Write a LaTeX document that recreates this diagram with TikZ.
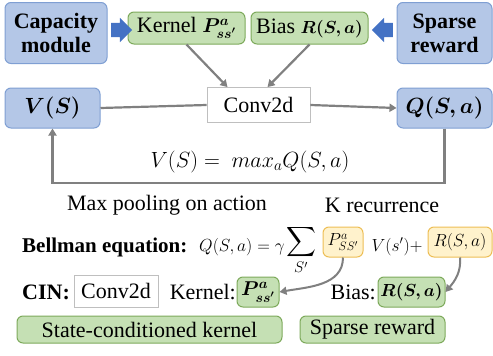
\RequirePackage{fix-cm}
\documentclass[tikz,border=0pt]{standalone}
\usepackage{amsmath,bm}
\usepackage{fontspec}
\setmainfont{Liberation Serif}
\usetikzlibrary{arrows.meta,shapes.arrows}
\definecolor{blueF}{HTML}{B4C7E7}
\definecolor{blueD}{HTML}{7F9FD3}
\definecolor{arrowB}{HTML}{4472C4}
\definecolor{greenF}{HTML}{C5E0B4}
\definecolor{greenD}{HTML}{7DAA5B}
\definecolor{yellowF}{HTML}{FFF2CC}
\definecolor{yellowD}{HTML}{EDBE55}
\definecolor{flowgray}{HTML}{808080}
\newcommand\figfont{\fontsize{22}{24}\selectfont}
\newcommand\eqfont{\fontsize{17.5}{20}\selectfont}

\begin{document}
\begin{tikzpicture}[x=1pt,y=-1pt,
    every node/.style={font=\figfont},
    box/.style={draw,rounded corners=6pt,line width=1pt,inner sep=0pt},
    bluebox/.style={box,draw=blueD,fill=blueF},
    greenbox/.style={box,draw=greenD,fill=greenF},
    yellowbox/.style={box,draw=yellowD,fill=yellowF},
    plainbox/.style={draw=black!25,line width=0.8pt,fill=white,inner sep=0pt},
    flow/.style={draw=flowgray,line width=2.2pt,-{Triangle[length=7pt,width=8pt]}},
    fat/.style={single arrow,fill=arrowB,inner xsep=0pt,inner ysep=7pt,minimum height=21pt,single arrow head extend=5pt,single arrow head indent=0pt}]
    \useasboundingbox (0,0) rectangle (493,356);

    % top row
    \node[bluebox,minimum width=102pt,minimum height=61pt,align=center,font=\figfont\bfseries] (cap) at (56,33) {Capacity\\module};
    \node[bluebox,minimum width=95pt,minimum height=61pt,align=center,font=\figfont\bfseries] (spr) at (444.5,33) {Sparse\\reward};
    \node[greenbox,minimum width=117pt,minimum height=32pt] (kern) at (186.5,28) {Kernel {\fontsize{20}{22}\selectfont$\bm{P^{a}_{ss'}}$}};
    \node[greenbox,minimum width=117pt,minimum height=32pt] (bias) at (309.5,28) {Bias {\eqfont$\bm{R(S,a)}$}};
    \node[fat] (capin) at (118,30) {};
    \node[fat,shape border rotate=180] (sprin) at (386,30) {};

    % value iteration loop
    \node[plainbox,minimum width=103pt,minimum height=35pt] (conv) at (258.5,105) {Conv2d};
    \node[bluebox,minimum width=95pt,minimum height=40pt] (vs) at (52.5,108) {$\bm{V(S)}$};
    \node[bluebox,minimum width=95pt,minimum height=40pt] (qs) at (444.5,108) {$\bm{Q(S,a)}$};
    \draw[flow] (kern.south) -- ([xshift=-31pt]conv.north);
    \draw[flow] (bias.south) -- ([xshift=9pt]conv.north);
    \draw[draw=flowgray,line width=2.2pt] (vs.east) -- (conv.west);
    \draw[flow] (conv.east) -- (qs.west);
    \coordinate (fb) at (0,183);
    \draw[flow] (qs.south) |- (fb -| vs.south) -- (vs.south);
    \node (maxeq) at (250,162) {$V(S) =\ max_{a}Q(S,a)$};
    \node (pool) at (167,205) {Max pooling on action};
    \node (krec) at (382,205) {K recurrence};

    % Bellman equation
    \node[anchor=base west,inner sep=0pt,font=\fontsize{21}{24}\selectfont\bfseries] (bell) at (22,252) {Bellman equation:};
    \node[anchor=base west,inner sep=0pt,font=\eqfont] (qeq) at (199,251) {$Q(S,a) = \gamma$};
    \node[inner sep=0pt] (sum) at (301,250) {$\displaystyle\sum_{S'}$};
    \node[yellowbox,minimum width=40pt,minimum height=30pt,font=\eqfont] (py) at (343,242) {$P^{a}_{SS'}$};
    \node[anchor=base,inner sep=0pt,font=\eqfont] (vsp) at (397,251) {$V(s') +$};
    \node[yellowbox,minimum width=64pt,minimum height=30pt,font=\eqfont] (ry) at (460,242) {$R(S,a)$};

    % CIN
    \node[anchor=base west,inner sep=0pt,font=\figfont\bfseries] (cin) at (22,299) {CIN:};
    \node[plainbox,minimum width=84pt,minimum height=32pt] (conv2) at (116,291) {Conv2d};
    \node[anchor=base east,inner sep=0pt] (kl) at (236,299) {Kernel:};
    \node[greenbox,minimum width=42pt,minimum height=30pt,font=\fontsize{20}{22}\selectfont] (pg) at (258,292) {$\bm{P^{a}_{ss'}}$};
    \node[anchor=base east,inner sep=0pt] (bl) at (376,299) {Bias:};
    \node[greenbox,minimum width=67pt,minimum height=30pt,font=\eqfont] (rg) at (411.5,292) {$\bm{R(S,a)}$};
    \draw[flow,line width=2pt] (py.south) to[out=-90,in=10] (pg.east);
    \draw[flow,line width=2pt] (ry.south) to[out=-85,in=50] (rg.east);

    % bottom labels
    \node[greenbox,minimum width=265pt,minimum height=27pt] (sck) at (149.5,329.5) {State-conditioned kernel};
    \node[greenbox,minimum width=145pt,minimum height=27pt] (srw) at (372.5,329.5) {Sparse reward};
\end{tikzpicture}
\end{document}
